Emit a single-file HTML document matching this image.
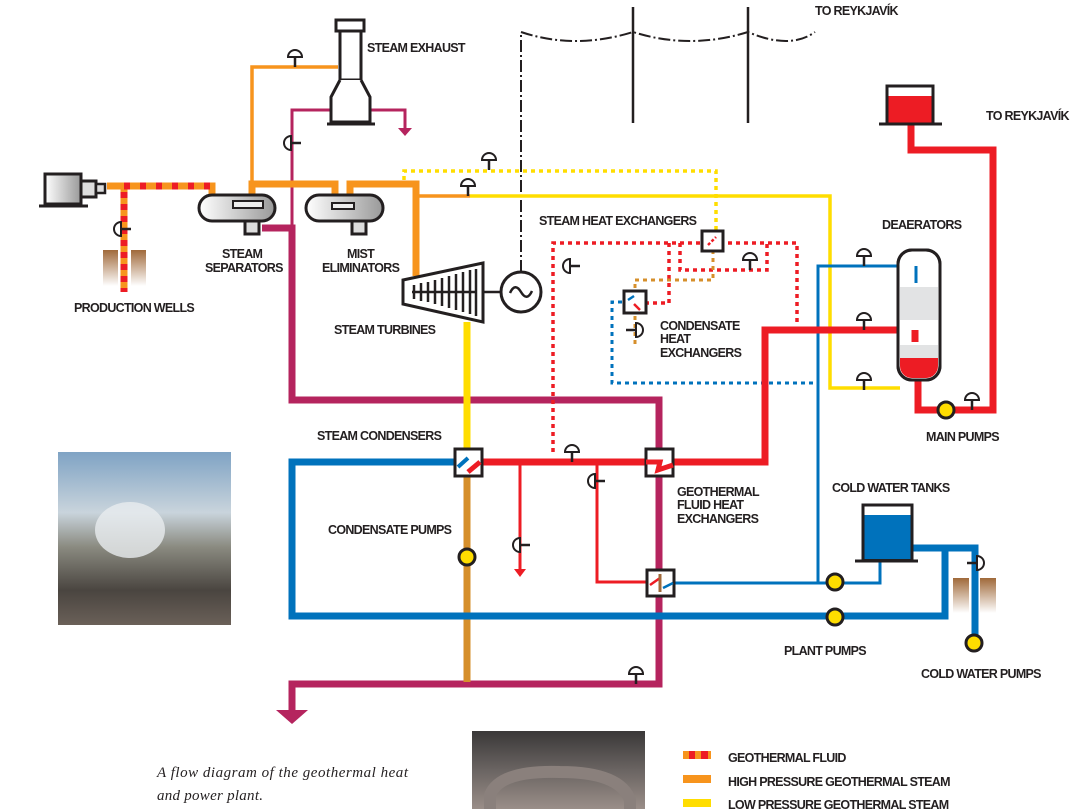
<!DOCTYPE html>
<html><head><meta charset="utf-8"><style>
html,body{margin:0;padding:0;background:#fff}
svg{display:block}
.t{font-family:"Liberation Sans",sans-serif;font-weight:bold;font-size:12.5px;fill:#231F20;letter-spacing:-0.7px}
</style></head><body>
<svg width="1087" height="809" viewBox="0 0 1087 809" xmlns="http://www.w3.org/2000/svg" fill="none">
<defs>
<linearGradient id="br" x1="0" y1="0" x2="0" y2="1"><stop offset="0" stop-color="#a0693a"/><stop offset="1" stop-color="#fff"/></linearGradient>
<linearGradient id="gr" x1="0" y1="0" x2="1" y2="0"><stop offset="0" stop-color="#fff"/><stop offset="1" stop-color="#999"/></linearGradient>
<linearGradient id="ph1" x1="0" y1="0" x2="0" y2="1"><stop offset="0" stop-color="#7fa3c4"/><stop offset="0.35" stop-color="#c9d4dc"/><stop offset="0.55" stop-color="#8a8a80"/><stop offset="0.8" stop-color="#4a4540"/><stop offset="1" stop-color="#6a6058"/></linearGradient>
<linearGradient id="ph2" x1="0" y1="0" x2="0" y2="1"><stop offset="0" stop-color="#3a3838"/><stop offset="0.5" stop-color="#6a6462"/><stop offset="1" stop-color="#9a8e88"/></linearGradient>
<g id="vu"><path d="M-7,0 A7,7 0 0 1 7,0 Z" fill="#fff" stroke="#231F20" stroke-width="2"/><line x1="0" y1="0" x2="0" y2="10" stroke="#231F20" stroke-width="2.5"/></g>
</defs>

<!-- power line -->
<g stroke="#231F20" stroke-width="2">
<path d="M521,272 V32" stroke-dasharray="12,3,2,3"/>
<path d="M521,32 Q575,50 633,32 Q690,50 748,32 Q790,50 815,32" stroke-dasharray="12,3,2,3"/>
<line x1="633" y1="7" x2="633" y2="123" stroke-width="2.5"/>
<line x1="748" y1="7" x2="748" y2="123" stroke-width="2.5"/>
</g>

<!-- magenta -->
<g stroke="#B5245E" fill="none">
<path d="M292,225 V110 H330" stroke-width="3"/>
<path d="M370,110 H405 V130" stroke-width="3"/>
<path d="M262,228 H292 V400 H659 V684 H292 V712" stroke-width="7"/>
</g>
<path d="M398,128 L412,128 L405,136 Z" fill="#B5245E"/>
<path d="M276,710 L308,710 L292,724 Z" fill="#B5245E"/>

<!-- orange HP steam -->
<g stroke="#F7941D" fill="none">
<path d="M252,190 V67 H338" stroke-width="3.5"/>
<path d="M252,195 V184 H335 V195" stroke-width="7"/>
<path d="M350,195 V184 H416 V276" stroke-width="7"/>
<path d="M416,196 H470" stroke-width="3.5"/>
</g>
<!-- yellow LP -->
<path d="M470,196 H830 V388 H900" stroke="#FFDD00" stroke-width="3.5"/>
<path d="M404,180 V171 H716 V232" stroke="#FFDD00" stroke-width="3.5" stroke-dasharray="4,4"/>
<path d="M467,322 V450" stroke="#FFDD00" stroke-width="7"/>
<path d="M467,476 V682" stroke="#D68F2B" stroke-width="7"/>

<!-- geothermal fluid -->
<path d="M107,186 H212 V196" stroke="#F7941D" stroke-width="7"/>
<path d="M124,186 V292" stroke="#F7941D" stroke-width="7"/>
<path d="M124,186 H212 V196" stroke="#ED1C24" stroke-width="7" stroke-dasharray="6,10"/>
<path d="M124,192 V292" stroke="#ED1C24" stroke-width="7" stroke-dasharray="6,6"/>
<rect x="103" y="250" width="15" height="36" fill="url(#br)"/>
<rect x="131" y="250" width="15" height="36" fill="url(#br)"/>

<!-- compressor/wellhead -->
<rect x="45" y="174" width="36" height="30" fill="url(#gr)" stroke="#231F20" stroke-width="3"/>
<rect x="81" y="181" width="15" height="16" fill="#ddd" stroke="#231F20" stroke-width="3"/>
<rect x="96" y="184" width="9" height="9" fill="#ddd" stroke="#231F20" stroke-width="2.5"/>
<line x1="39" y1="206" x2="88" y2="206" stroke="#231F20" stroke-width="3"/>

<!-- separators -->
<rect x="199" y="195" width="76" height="26" rx="13" fill="url(#gr)" stroke="#231F20" stroke-width="3"/>
<rect x="233" y="201" width="30" height="7" fill="#eee" stroke="#231F20" stroke-width="2"/>
<rect x="245" y="221" width="14" height="13" fill="#ddd" stroke="#231F20" stroke-width="3"/>
<rect x="306" y="195" width="77" height="26" rx="13" fill="url(#gr)" stroke="#231F20" stroke-width="3"/>
<rect x="332" y="203" width="22" height="6" fill="#eee" stroke="#231F20" stroke-width="2"/>
<rect x="352" y="221" width="14" height="13" fill="#ddd" stroke="#231F20" stroke-width="3"/>

<!-- exhaust -->
<rect x="336" y="20" width="28" height="11" fill="#fff" stroke="#231F20" stroke-width="3"/>
<rect x="340" y="31" width="21" height="49" fill="#fff" stroke="#231F20" stroke-width="3"/>
<path d="M340,80 L331,97 V122 H370 V97 L361,80" fill="#fff" stroke="#231F20" stroke-width="3"/>
<line x1="327" y1="124" x2="375" y2="124" stroke="#231F20" stroke-width="3"/>

<!-- turbine & generator -->
<path d="M403,280 L483,263 V322 L403,304 Z" fill="#fff" stroke="#231F20" stroke-width="3"/>
<g stroke="#231F20" stroke-width="2.5">
<line x1="412" y1="292" x2="476" y2="292"/>
<line x1="414" y1="285" x2="414" y2="299"/><line x1="421" y1="283" x2="421" y2="301"/><line x1="428" y1="282" x2="428" y2="302"/><line x1="435" y1="280" x2="435" y2="304"/><line x1="442" y1="278" x2="442" y2="306"/><line x1="449" y1="276" x2="449" y2="308"/><line x1="456" y1="274" x2="456" y2="310"/><line x1="463" y1="272" x2="463" y2="312"/><line x1="470" y1="270" x2="470" y2="314"/><line x1="476" y1="269" x2="476" y2="316"/>
<line x1="483" y1="292" x2="501" y2="292"/>
</g>
<circle cx="521" cy="292" r="20" fill="#fff" stroke="#231F20" stroke-width="3"/>
<path d="M510,293 Q515,282 521,292 T532,291" stroke="#231F20" stroke-width="2.5"/>

<!-- blue -->
<g stroke="#0072BC" fill="none">
<path d="M455,462 H292 V616 H945 V548" stroke-width="7"/>
<path d="M912,548 H975 V640" stroke-width="7"/>
<path d="M673,583 H830" stroke-width="3"/>
<path d="M818,583 V266 H916 V283" stroke-width="3"/>
<path d="M840,583 H880 V560" stroke-width="3"/>
<path d="M630,302 H612 V383 H818" stroke-width="3" stroke-dasharray="4,4"/>
</g>

<!-- red -->
<g stroke="#ED1C24" fill="none">
<path d="M483,462 H645" stroke-width="7"/>
<path d="M673,462 H765 V330 H915 V342" stroke-width="7"/>
<path d="M520,462 V570" stroke-width="3"/>
<path d="M597,462 V582 H648" stroke-width="3"/>
<path d="M918,380 V410 H993 V150 H911 V125" stroke-width="7"/>
<path d="M553,452 V243 H797 V325" stroke-width="3.5" stroke-dasharray="4,4"/>
<path d="M680,243 V270 H767 V243" stroke-width="3.5" stroke-dasharray="4,4"/>
<path d="M669,243 V303 H647" stroke-width="3.5" stroke-dasharray="4,4"/>
</g>
<path d="M514,569 L526,569 L520,577 Z" fill="#ED1C24"/>
<path d="M713,250 V280 H635 V345" stroke="#D68F2B" stroke-width="3" stroke-dasharray="4,4"/>

<!-- exchanger boxes -->
<rect x="455" y="449" width="27" height="27" fill="#fff" stroke="#231F20" stroke-width="3"/>
<path d="M458,467 L468,458" stroke="#0072BC" stroke-width="4"/><path d="M468,472 L480,462" stroke="#ED1C24" stroke-width="5"/>
<rect x="646" y="449" width="27" height="27" fill="#fff" stroke="#231F20" stroke-width="3"/>
<path d="M646,462 H660 L658,470 L673,465" stroke="#ED1C24" stroke-width="5"/>
<rect x="647" y="570" width="27" height="26" fill="#fff" stroke="#231F20" stroke-width="3"/>
<path d="M650,585 L660,578" stroke="#ED1C24" stroke-width="2.5"/><line x1="660" y1="574" x2="660" y2="592" stroke="#A0693A" stroke-width="3"/><path d="M663,588 L673,583" stroke="#0072BC" stroke-width="2.5"/>
<rect x="702" y="231" width="21" height="20" fill="#fff" stroke="#231F20" stroke-width="3"/>
<path d="M708,245 L716,237" stroke="#ED1C24" stroke-width="2.5" stroke-dasharray="3,2"/>
<rect x="624" y="291" width="22" height="22" fill="#fff" stroke="#231F20" stroke-width="3"/>
<path d="M628,300 L634,296" stroke="#0072BC" stroke-width="2.5"/><path d="M634,304 L640,310" stroke="#ED1C24" stroke-width="2.5"/>

<!-- deaerator -->
<rect x="898" y="250" width="42" height="130" rx="14" fill="#fff" stroke="#231F20" stroke-width="3"/>
<rect x="900" y="287" width="38" height="33" fill="#e2e3e4"/>
<rect x="900" y="345" width="38" height="13" fill="#e2e3e4"/>
<path d="M900,358 H938 V366 A12,12 0 0 1 926,378 H912 A12,12 0 0 1 900,366 Z" fill="#ED1C24"/>
<rect x="898" y="250" width="42" height="130" rx="14" fill="none" stroke="#231F20" stroke-width="3"/>
<path d="M916,266 V283" stroke="#0072BC" stroke-width="3"/>
<path d="M915,330 V342" stroke="#ED1C24" stroke-width="7"/>

<!-- tanks -->
<rect x="887" y="86" width="46" height="38" fill="#fff" stroke="#231F20" stroke-width="3"/>
<rect x="888.5" y="96" width="43" height="27" fill="#ED1C24"/>
<line x1="879" y1="124" x2="942" y2="124" stroke="#231F20" stroke-width="3"/>
<rect x="863" y="505" width="49" height="55" fill="#fff" stroke="#231F20" stroke-width="3"/>
<rect x="864.5" y="515" width="46" height="44" fill="#0072BC"/>
<line x1="855" y1="561" x2="918" y2="561" stroke="#231F20" stroke-width="3"/>
<rect x="953" y="578" width="16" height="35" fill="url(#br)"/>
<rect x="980" y="578" width="16" height="35" fill="url(#br)"/>

<!-- pumps -->
<g fill="#FFDD00" stroke="#231F20" stroke-width="3">
<circle cx="467" cy="557" r="8"/><circle cx="835" cy="582" r="8"/><circle cx="835" cy="617" r="8"/><circle cx="974" cy="643" r="8"/><circle cx="946" cy="410" r="8"/>
</g>

<!-- valves up -->
<use href="#vu" x="295" y="57"/><use href="#vu" x="489" y="160"/><use href="#vu" x="468" y="186"/>
<use href="#vu" x="750" y="260"/><use href="#vu" x="864" y="256"/><use href="#vu" x="864" y="320"/><use href="#vu" x="864" y="380"/>
<use href="#vu" x="972" y="400"/><use href="#vu" x="572" y="452"/><use href="#vu" x="636" y="674"/>
<use href="#vu" transform="translate(121,229) rotate(-90)"/>
<use href="#vu" transform="translate(291,143) rotate(-90)"/>
<use href="#vu" transform="translate(570,266) rotate(-90)"/>
<use href="#vu" transform="translate(595,481) rotate(-90)"/>
<use href="#vu" transform="translate(520,545) rotate(-90)"/>
<use href="#vu" transform="translate(636,330) rotate(90)"/>
<use href="#vu" transform="translate(977,563) rotate(90)"/>

<!-- photos -->
<rect x="58" y="452" width="173" height="173" fill="url(#ph1)"/>
<ellipse cx="130" cy="530" rx="35" ry="28" fill="#e8ecef" opacity="0.8"/>
<rect x="472" y="731" width="173" height="78" fill="url(#ph2)"/>
<path d="M490,809 V795 Q500,770 560,772 Q620,772 630,800 V809" stroke="#8a807c" stroke-width="12"/>

<!-- labels -->
<text class="t" x="367" y="52">STEAM EXHAUST</text>
<text class="t" x="815" y="15">TO REYKJAVÍK</text>
<text class="t" x="986" y="120">TO REYKJAVÍK</text>
<text class="t" x="222" y="258">STEAM</text>
<text class="t" x="205" y="272">SEPARATORS</text>
<text class="t" x="347" y="258">MIST</text>
<text class="t" x="322" y="272">ELIMINATORS</text>
<text class="t" x="74" y="312">PRODUCTION WELLS</text>
<text class="t" x="334" y="334">STEAM TURBINES</text>
<text class="t" x="539" y="225">STEAM HEAT EXCHANGERS</text>
<text class="t" x="882" y="229">DEAERATORS</text>
<text class="t" x="660" y="330">CONDENSATE</text>
<text class="t" x="660" y="343">HEAT</text>
<text class="t" x="660" y="357">EXCHANGERS</text>
<text class="t" x="926" y="441">MAIN PUMPS</text>
<text class="t" x="317" y="440">STEAM CONDENSERS</text>
<text class="t" x="677" y="496">GEOTHERMAL</text>
<text class="t" x="677" y="509">FLUID HEAT</text>
<text class="t" x="677" y="523">EXCHANGERS</text>
<text class="t" x="832" y="492">COLD WATER TANKS</text>
<text class="t" x="328" y="534">CONDENSATE PUMPS</text>
<text class="t" x="784" y="655">PLANT PUMPS</text>
<text class="t" x="921" y="678">COLD WATER PUMPS</text>

<!-- caption -->
<text x="157" y="777" font-family="Liberation Serif,serif" font-style="italic" font-size="15" fill="#231F20" textLength="251" lengthAdjust="spacing">A flow diagram of the geothermal heat</text>
<text x="157" y="800" font-family="Liberation Serif,serif" font-style="italic" font-size="15" fill="#231F20" textLength="106" lengthAdjust="spacing">and power plant.</text>

<!-- legend -->
<rect x="683" y="751" width="28" height="8" fill="#F7941D"/>
<rect x="689" y="751" width="6" height="8" fill="#ED1C24"/><rect x="701" y="751" width="7" height="8" fill="#ED1C24"/>
<rect x="683" y="775" width="28" height="8" fill="#F7941D"/>
<rect x="683" y="799" width="28" height="8" fill="#FFDD00"/>
<text class="t" x="728" y="762">GEOTHERMAL FLUID</text>
<text class="t" x="728" y="786">HIGH PRESSURE GEOTHERMAL STEAM</text>
<text class="t" x="728" y="809">LOW PRESSURE GEOTHERMAL STEAM</text>
</svg>
</body></html>
